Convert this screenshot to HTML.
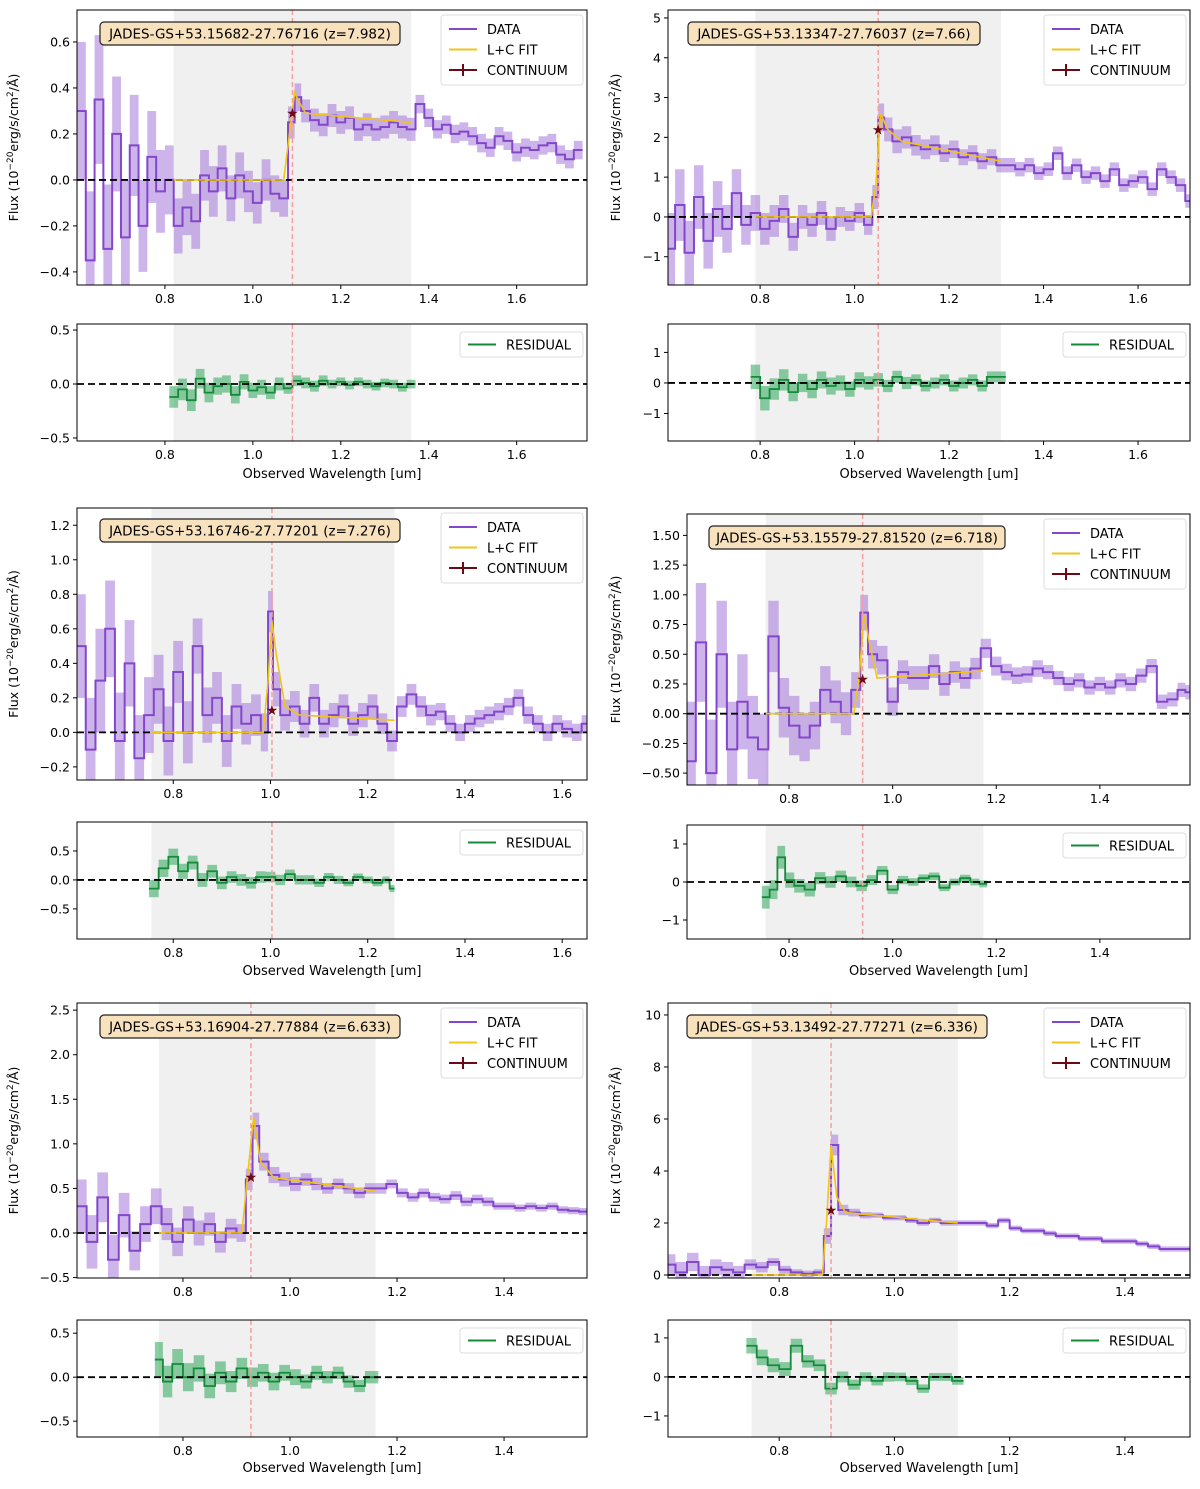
<!DOCTYPE html>
<html><head><meta charset="utf-8"><style>
html,body{margin:0;padding:0;background:#fff}
svg{display:block;font-family:"DejaVu Sans","Liberation Sans",sans-serif}
</style></head><body>
<svg id="fig" width="1200" height="1489" viewBox="0 0 1200 1489"></svg>
<script>
// ---------- DATA ----------
const titles=["JADES-GS+53.15682-27.76716 (z=7.982)","JADES-GS+53.13347-27.76037 (z=7.66)","JADES-GS+53.16746-27.77201 (z=7.276)","JADES-GS+53.15579-27.81520 (z=6.718)","JADES-GS+53.16904-27.77884 (z=6.633)","JADES-GS+53.13492-27.77271 (z=6.336)"];
// panel 1
const w1=[0.61,0.63,0.65,0.67,0.69,0.71,0.73,0.75,0.77,0.79,0.81,0.83,0.85,0.87,0.89,0.91,0.93,0.95,0.97,0.99,1.01,1.03,1.05,1.07,1.09,1.10,1.12,1.14,1.16,1.18,1.20,1.22,1.24,1.26,1.28,1.30,1.32,1.34,1.36,1.38,1.40,1.42,1.44,1.46,1.48,1.50,1.52,1.54,1.56,1.58,1.60,1.62,1.64,1.66,1.68,1.70,1.72,1.74];
const f1=[0.3,-0.35,0.35,-0.3,0.2,-0.25,0.15,-0.2,0.1,-0.05,0.0,-0.2,-0.12,-0.18,0.02,-0.05,0.05,-0.08,0.02,-0.05,-0.1,0.0,-0.06,-0.08,0.25,0.36,0.3,0.26,0.24,0.28,0.25,0.27,0.22,0.24,0.22,0.23,0.25,0.23,0.22,0.33,0.27,0.22,0.24,0.2,0.21,0.19,0.16,0.14,0.19,0.17,0.12,0.14,0.13,0.15,0.16,0.11,0.09,0.13];
const e1=[0.3,0.3,0.28,0.28,0.25,0.25,0.22,0.2,0.2,0.18,0.15,0.12,0.12,0.12,0.11,0.11,0.1,0.1,0.1,0.09,0.09,0.09,0.08,0.08,0.07,0.06,0.05,0.05,0.05,0.05,0.05,0.05,0.05,0.05,0.05,0.05,0.05,0.05,0.05,0.04,0.04,0.04,0.04,0.04,0.04,0.04,0.04,0.04,0.04,0.04,0.04,0.04,0.04,0.04,0.04,0.04,0.04,0.04];
const fx1=[0.82,1.07,1.08,1.095,1.105,1.12,1.36], fy1=[0,0,0.15,0.38,0.34,0.29,0.25];
const cont1=[1.09,0.29];
const rw1=[0.82,0.84,0.86,0.88,0.90,0.92,0.94,0.96,0.98,1.00,1.02,1.04,1.06,1.08,1.10,1.12,1.14,1.16,1.18,1.20,1.22,1.24,1.26,1.28,1.30,1.32,1.34,1.36];
const r1=[-0.12,-0.05,-0.15,0.05,-0.08,-0.02,0.0,-0.1,0.02,-0.06,-0.03,-0.08,0.0,-0.04,0.03,0.01,-0.02,0.03,0.0,0.02,-0.01,0.02,0.0,-0.02,0.01,0.0,-0.03,0.0];
const re1=[0.1,0.1,0.1,0.09,0.09,0.08,0.08,0.08,0.07,0.07,0.07,0.06,0.06,0.05,0.05,0.05,0.05,0.05,0.04,0.04,0.04,0.04,0.04,0.04,0.04,0.04,0.04,0.04];
// panel 2
const w2=[0.61,0.63,0.65,0.67,0.69,0.71,0.73,0.75,0.77,0.79,0.81,0.83,0.85,0.87,0.89,0.91,0.93,0.95,0.97,0.99,1.01,1.03,1.045,1.055,1.07,1.09,1.11,1.13,1.15,1.17,1.19,1.21,1.23,1.25,1.27,1.29,1.31,1.33,1.35,1.37,1.39,1.41,1.43,1.45,1.47,1.49,1.51,1.53,1.55,1.57,1.59,1.61,1.63,1.65,1.67,1.69,1.71];
const f2=[-0.8,0.3,-0.9,0.5,-0.6,0.2,-0.3,0.6,-0.2,0.1,-0.3,-0.1,0.2,-0.5,0.0,-0.2,0.1,-0.3,0.0,-0.1,0.1,-0.2,0.5,2.5,2.2,1.9,2.0,1.8,1.7,1.8,1.6,1.7,1.5,1.6,1.4,1.5,1.3,1.3,1.2,1.3,1.1,1.2,1.6,1.1,1.3,1.0,1.1,0.9,1.2,0.8,0.9,1.0,0.7,1.2,1.0,0.8,0.4];
const e2=[0.9,0.9,0.8,0.8,0.7,0.7,0.6,0.6,0.5,0.45,0.4,0.4,0.35,0.35,0.3,0.3,0.3,0.3,0.25,0.25,0.25,0.25,0.3,0.35,0.3,0.3,0.28,0.26,0.25,0.25,0.22,0.22,0.2,0.2,0.2,0.2,0.18,0.18,0.18,0.18,0.17,0.17,0.17,0.17,0.17,0.17,0.17,0.17,0.17,0.17,0.17,0.17,0.17,0.17,0.17,0.17,0.17];
const fx2=[0.79,1.035,1.045,1.055,1.07,1.1,1.31], fy2=[0,0,0.8,2.6,2.2,1.9,1.4];
const cont2=[1.05,2.2];
const rw2=[0.79,0.81,0.83,0.85,0.87,0.89,0.91,0.93,0.95,0.97,0.99,1.01,1.03,1.05,1.07,1.09,1.11,1.13,1.15,1.17,1.19,1.21,1.23,1.25,1.27,1.29,1.31];
const r2=[0.2,-0.5,-0.2,0.1,-0.3,0.0,-0.2,0.1,-0.1,0.0,-0.2,0.1,0.0,0.1,-0.1,0.2,0.0,0.1,-0.1,0.0,0.1,-0.1,0.0,0.1,-0.1,0.2,0.2];
const re2=[0.4,0.4,0.35,0.35,0.3,0.3,0.3,0.28,0.28,0.25,0.25,0.25,0.22,0.22,0.2,0.2,0.2,0.18,0.18,0.18,0.18,0.18,0.18,0.18,0.18,0.18,0.18];
// panel 3
const w3=[0.61,0.63,0.65,0.67,0.69,0.71,0.73,0.75,0.77,0.79,0.81,0.83,0.85,0.87,0.89,0.91,0.93,0.95,0.97,0.99,1.0,1.01,1.03,1.05,1.07,1.09,1.11,1.13,1.15,1.17,1.19,1.21,1.23,1.25,1.27,1.29,1.31,1.33,1.35,1.37,1.39,1.41,1.43,1.45,1.47,1.49,1.51,1.53,1.55,1.57,1.59,1.61,1.63,1.65];
const f3=[0.5,-0.1,0.3,0.6,-0.05,0.4,-0.15,0.1,0.25,-0.05,0.35,0.0,0.5,0.1,0.2,-0.05,0.15,0.05,0.1,0.0,0.7,0.25,0.1,0.15,0.05,0.2,0.05,0.1,0.15,0.05,0.1,0.15,0.05,-0.05,0.15,0.22,0.15,0.1,0.12,0.05,0.0,0.05,0.08,0.1,0.12,0.15,0.2,0.1,0.05,0.0,0.05,0.02,0.0,0.05];
const e3=[0.3,0.3,0.3,0.28,0.28,0.25,0.25,0.22,0.2,0.2,0.18,0.18,0.16,0.16,0.15,0.15,0.13,0.12,0.12,0.11,0.12,0.1,0.09,0.09,0.08,0.08,0.08,0.07,0.07,0.07,0.07,0.07,0.06,0.06,0.06,0.06,0.06,0.06,0.05,0.05,0.05,0.05,0.05,0.05,0.05,0.05,0.05,0.05,0.05,0.05,0.05,0.05,0.05,0.05];
const fx3=[0.755,0.985,0.995,1.003,1.012,1.03,1.06,1.255], fy3=[0,0,0.3,0.64,0.45,0.15,0.1,0.07];
const cont3=[1.003,0.13];
const rw3=[0.76,0.78,0.80,0.82,0.84,0.86,0.88,0.90,0.92,0.94,0.96,0.98,1.00,1.02,1.04,1.06,1.08,1.10,1.12,1.14,1.16,1.18,1.20,1.22,1.24,1.25];
const r3=[-0.15,0.2,0.4,0.15,0.3,0.0,0.15,-0.05,0.05,0.0,-0.05,0.05,0.05,0.0,0.1,0.0,0.0,-0.05,0.05,0.0,-0.05,0.05,0.0,-0.05,0.0,-0.15];
const re3=[0.15,0.15,0.14,0.13,0.12,0.12,0.11,0.11,0.1,0.1,0.1,0.1,0.09,0.09,0.08,0.08,0.08,0.07,0.07,0.07,0.06,0.06,0.06,0.06,0.06,0.06];
// panel 4
const w4=[0.61,0.63,0.65,0.67,0.69,0.71,0.73,0.75,0.77,0.79,0.81,0.83,0.85,0.87,0.89,0.91,0.93,0.945,0.96,0.98,1.00,1.02,1.04,1.06,1.08,1.10,1.12,1.14,1.16,1.18,1.20,1.22,1.24,1.26,1.28,1.30,1.32,1.34,1.36,1.38,1.40,1.42,1.44,1.46,1.48,1.50,1.52,1.54,1.56,1.57];
const f4=[-0.4,0.6,-0.5,0.5,-0.3,0.1,-0.2,-0.3,0.65,0.05,-0.1,-0.2,-0.1,0.2,0.1,0.0,0.2,0.85,0.5,0.45,0.1,0.35,0.3,0.3,0.4,0.25,0.35,0.3,0.38,0.55,0.4,0.35,0.32,0.33,0.38,0.35,0.3,0.25,0.28,0.22,0.25,0.22,0.28,0.25,0.32,0.4,0.1,0.12,0.2,0.18];
const e4=[0.5,0.5,0.45,0.45,0.4,0.4,0.35,0.3,0.3,0.25,0.25,0.2,0.2,0.2,0.18,0.18,0.15,0.15,0.12,0.12,0.12,0.1,0.1,0.1,0.1,0.1,0.09,0.09,0.09,0.08,0.08,0.07,0.07,0.07,0.07,0.06,0.06,0.06,0.06,0.06,0.06,0.06,0.06,0.06,0.06,0.06,0.06,0.06,0.06,0.06];
const fx4=[0.755,0.925,0.935,0.945,0.955,0.97,1.175], fy4=[0,0,0.3,0.83,0.6,0.3,0.36];
const cont4=[0.942,0.29];
const rw4=[0.755,0.77,0.785,0.80,0.82,0.84,0.86,0.88,0.90,0.92,0.94,0.96,0.98,1.00,1.02,1.04,1.06,1.08,1.10,1.12,1.14,1.16,1.175];
const r4=[-0.4,-0.2,0.65,0.05,-0.1,-0.2,0.1,0.0,0.15,0.0,-0.1,0.05,0.3,-0.2,0.05,0.0,0.1,0.15,-0.15,0.0,0.1,0.0,-0.05];
const re4=[0.3,0.25,0.3,0.2,0.18,0.18,0.16,0.15,0.15,0.14,0.14,0.13,0.12,0.12,0.11,0.1,0.1,0.1,0.09,0.09,0.09,0.09,0.09];
// panel 5
const w5=[0.61,0.63,0.65,0.67,0.69,0.71,0.73,0.75,0.77,0.79,0.81,0.83,0.85,0.87,0.89,0.91,0.925,0.935,0.95,0.97,0.99,1.01,1.03,1.05,1.07,1.09,1.11,1.13,1.15,1.17,1.19,1.21,1.23,1.25,1.27,1.29,1.31,1.33,1.35,1.37,1.39,1.41,1.43,1.45,1.47,1.49,1.51,1.53,1.55];
const f5=[0.3,-0.1,0.4,-0.3,0.2,-0.2,0.1,0.3,0.1,-0.1,0.15,0.0,0.1,-0.1,0.05,0.0,0.6,1.2,0.8,0.65,0.6,0.55,0.6,0.55,0.5,0.55,0.5,0.45,0.5,0.5,0.55,0.45,0.4,0.45,0.4,0.38,0.42,0.35,0.38,0.35,0.3,0.3,0.28,0.3,0.28,0.3,0.26,0.25,0.24];
const e5=[0.3,0.3,0.28,0.28,0.25,0.22,0.2,0.2,0.18,0.16,0.15,0.14,0.13,0.12,0.11,0.1,0.12,0.15,0.1,0.09,0.08,0.08,0.07,0.07,0.06,0.06,0.06,0.06,0.06,0.06,0.05,0.05,0.05,0.05,0.05,0.05,0.05,0.05,0.05,0.05,0.04,0.04,0.04,0.04,0.04,0.04,0.04,0.04,0.04];
const fx5=[0.755,0.91,0.92,0.932,0.945,0.97,1.16], fy5=[0,0,0.6,1.3,0.8,0.62,0.47];
const cont5=[0.927,0.63];
const rw5=[0.755,0.77,0.79,0.81,0.83,0.85,0.87,0.89,0.91,0.93,0.95,0.97,0.99,1.01,1.03,1.05,1.07,1.09,1.11,1.13,1.15,1.16];
const r5=[0.2,-0.05,0.15,0.0,0.1,-0.1,0.05,-0.05,0.1,0.0,0.05,-0.05,0.05,0.0,-0.05,0.05,0.0,0.05,-0.05,-0.1,0.0,0.0];
const re5=[0.2,0.18,0.17,0.16,0.15,0.14,0.13,0.12,0.12,0.11,0.1,0.1,0.09,0.09,0.08,0.08,0.07,0.07,0.07,0.07,0.07,0.07];
// panel 6
const w6=[0.61,0.63,0.65,0.67,0.69,0.71,0.73,0.75,0.77,0.79,0.81,0.83,0.85,0.87,0.885,0.895,0.91,0.93,0.95,0.97,0.99,1.01,1.03,1.05,1.07,1.09,1.11,1.13,1.15,1.17,1.19,1.21,1.23,1.25,1.27,1.29,1.31,1.33,1.35,1.37,1.39,1.41,1.43,1.45,1.47,1.49,1.51];
const f6=[0.4,0.1,0.5,0.0,0.3,0.2,0.1,0.4,0.3,0.5,0.2,0.1,0.05,0.1,1.5,5.0,2.5,2.4,2.3,2.3,2.2,2.2,2.1,2.0,2.1,2.0,2.0,2.0,2.0,1.9,2.1,1.8,1.7,1.7,1.6,1.5,1.5,1.4,1.4,1.3,1.3,1.3,1.2,1.1,1.0,1.0,1.0];
const e6=[0.4,0.4,0.35,0.35,0.3,0.3,0.25,0.2,0.2,0.15,0.15,0.12,0.12,0.12,0.3,0.4,0.2,0.15,0.12,0.1,0.1,0.1,0.1,0.1,0.1,0.1,0.1,0.1,0.1,0.1,0.1,0.1,0.1,0.1,0.1,0.1,0.1,0.1,0.1,0.1,0.1,0.1,0.1,0.1,0.1,0.1,0.1];
const fx6=[0.752,0.875,0.882,0.89,0.9,0.915,1.11], fy6=[0,0,2,5,3,2.4,2.0];
const cont6=[0.89,2.5];
const rw6=[0.752,0.77,0.79,0.81,0.83,0.85,0.87,0.89,0.91,0.93,0.95,0.97,0.99,1.01,1.03,1.05,1.07,1.09,1.11];
const r6=[0.8,0.5,0.3,0.2,0.8,0.4,0.3,-0.3,0.0,-0.2,0.0,-0.1,0.0,0.0,-0.1,-0.3,0.0,0.0,-0.1];
const re6=[0.2,0.2,0.18,0.18,0.18,0.16,0.15,0.15,0.14,0.13,0.12,0.12,0.12,0.11,0.11,0.11,0.1,0.1,0.1];

// ---------- LAYOUT ----------
const panels=[
 {w:w1,f:f1,e:e1,fx:fx1,fy:fy1,c:cont1,rw:rw1,r:r1,re:re1,ax:[77,587,10,285],rax:[324,441],xr:[0.6,1.76],yr:[-0.457,0.739],yt:[-0.4,-0.2,0,0.2,0.4,0.6],yl:["\u22120.4","\u22120.2","0.0","0.2","0.4","0.6"],rr:[-0.528,0.556],rt:[-0.5,0,0.5],rl:["\u22120.5","0.0","0.5"],xt:[0.8,1.0,1.2,1.4,1.6],band:[0.82,1.36],red:1.09,ylx:18,tx:100,ty:22,tw:300,xlab:478},
 {w:w2,f:f2,e:e2,fx:fx2,fy:fy2,c:cont2,rw:rw2,r:r2,re:re2,ax:[668,1190,10,285],rax:[324,441],xr:[0.605,1.71],yr:[-1.71,5.2],yt:[-1,0,1,2,3,4,5],yl:["\u22121","0","1","2","3","4","5"],rr:[-1.9,1.93],rt:[-1,0,1],rl:["\u22121","0","1"],xt:[0.8,1.0,1.2,1.4,1.6],band:[0.79,1.31],red:1.05,ylx:620,tx:688,ty:22,tw:292,xlab:478},
 {w:w3,f:f3,e:e3,fx:fx3,fy:fy3,c:cont3,rw:rw3,r:r3,re:re3,ax:[77,587,508,780],rax:[822,939],xr:[0.602,1.651],yr:[-0.276,1.3],yt:[-0.2,0,0.2,0.4,0.6,0.8,1.0,1.2],yl:["\u22120.2","0.0","0.2","0.4","0.6","0.8","1.0","1.2"],rr:[-1.02,1.0],rt:[-0.5,0,0.5],rl:["\u22120.5","0.0","0.5"],xt:[0.8,1.0,1.2,1.4,1.6],band:[0.755,1.255],red:1.003,ylx:18,tx:100,ty:519,tw:300,xlab:975},
 {w:w4,f:f4,e:e4,fx:fx4,fy:fy4,c:cont4,rw:rw4,r:r4,re:re4,ax:[687,1190,514,785],rax:[825,939],xr:[0.603,1.574],yr:[-0.6,1.68],yt:[-0.5,-0.25,0,0.25,0.5,0.75,1.0,1.25,1.5],yl:["\u22120.50","\u22120.25","0.00","0.25","0.50","0.75","1.00","1.25","1.50"],rr:[-1.5,1.5],rt:[-1,0,1],rl:["\u22121","0","1"],xt:[0.8,1.0,1.2,1.4],band:[0.755,1.175],red:0.942,ylx:620,tx:709,ty:526,tw:296,xlab:975},
 {w:w5,f:f5,e:e5,fx:fx5,fy:fy5,c:cont5,rw:rw5,r:r5,re:re5,ax:[77,587,1003,1278],rax:[1320,1437],xr:[0.602,1.555],yr:[-0.505,2.58],yt:[-0.5,0,0.5,1.0,1.5,2.0,2.5],yl:["\u22120.5","0.0","0.5","1.0","1.5","2.0","2.5"],rr:[-0.68,0.65],rt:[-0.5,0,0.5],rl:["\u22120.5","0.0","0.5"],xt:[0.8,1.0,1.2,1.4],band:[0.755,1.16],red:0.927,ylx:18,tx:100,ty:1015,tw:300,xlab:1472},
 {w:w6,f:f6,e:e6,fx:fx6,fy:fy6,c:cont6,rw:rw6,r:r6,re:re6,ax:[668,1190,1003,1278],rax:[1320,1437],xr:[0.607,1.513],yr:[-0.115,10.46],yt:[0,2,4,6,8,10],yl:["0","2","4","6","8","10"],rr:[-1.54,1.46],rt:[-1,0,1],rl:["\u22121","0","1"],xt:[0.8,1.0,1.2,1.4],band:[0.752,1.11],red:0.89,ylx:620,tx:687,ty:1015,tw:300,xlab:1472}
];

const NS="http://www.w3.org/2000/svg";
const svg=document.getElementById('fig');
function mk(tag,attrs,parent,name){const el=document.createElementNS(NS,tag);for(const k in attrs)el.setAttribute(k,attrs[k]);(parent||svg).appendChild(el);


return el;}

function stepPaths(xs,ys,es,sx,sy){
  const n=xs.length;const b=[];
  for(let i=0;i<=n;i++){
    if(i===0)b.push(xs[0]-(xs[1]-xs[0])/2);
    else if(i===n)b.push(xs[n-1]+(xs[n-1]-xs[n-2])/2);
    else b.push((xs[i-1]+xs[i])/2);
  }
  let line="",up=[],lo=[];
  for(let i=0;i<n;i++){
    const a=sx(b[i]),c=sx(b[i+1]);
    line+=(i===0?"M":"L")+a+","+sy(ys[i])+"L"+c+","+sy(ys[i]);
    up.push(a+","+sy(ys[i]+es[i]),c+","+sy(ys[i]+es[i]));
    lo.push(a+","+sy(ys[i]-es[i]),c+","+sy(ys[i]-es[i]));
  }
  return {line,band:"M"+up.join("L")+"L"+lo.reverse().join("L")+"Z"};
}

panels.forEach((p,k)=>{
  const g=mk('g',{},svg,'panel-'+(k+1));
  const [x0,x1,y0,y1]=p.ax;
  const sx=v=>x0+(v-p.xr[0])/(p.xr[1]-p.xr[0])*(x1-x0);
  const clipId='c'+k, rclipId='rc'+k;
  const defs=mk('defs',{},g,'defs');
  const cp=mk('clipPath',{id:clipId},defs,'clip');mk('rect',{x:x0,y:y0,width:x1-x0,height:y1-y0},cp,'clip-rect');
  const rcp=mk('clipPath',{id:rclipId},defs,'clip');mk('rect',{x:x0,y:p.rax[0],width:x1-x0,height:p.rax[1]-p.rax[0]},rcp,'clip-rect');

  const sy=v=>y1-(v-p.yr[0])/(p.yr[1]-p.yr[0])*(y1-y0);
  const m=mk('g',{'clip-path':`url(#${clipId})`},g,'main-plot-area');
  mk('rect',{x:sx(p.band[0]),y:y0,width:sx(p.band[1])-sx(p.band[0]),height:y1-y0,fill:'#f0f0f0'},m,'fit-region');
  const sp=stepPaths(p.w,p.f,p.e,sx,sy);
  mk('path',{d:sp.band,fill:'#9c6ad8','fill-opacity':0.5,stroke:'none'},m,'data-error-band');
  mk('path',{d:sp.line,fill:'none',stroke:'#8447cc','stroke-width':2},m,'data-line');
  mk('line',{x1:x0,x2:x1,y1:sy(0),y2:sy(0),stroke:'#000','stroke-width':1.8,'stroke-dasharray':'7,4'},m,'zero-line');
  mk('line',{x1:sx(p.red),x2:sx(p.red),y1:y0,y2:y1,stroke:'#f4a0a0','stroke-width':1.5,'stroke-dasharray':'5,3'},m,'lya-line');
  mk('path',{d:p.fx.map((v,i)=>(i?'L':'M')+sx(v)+','+sy(p.fy[i])).join(''),fill:'none',stroke:'#f0c419','stroke-width':1.6},m,'fit-line');
  mk('text',{x:sx(p.c[0]),y:sy(p.c[1])+5,'text-anchor':'middle','font-size':14,fill:'#6b0a14'},m,'continuum-marker').textContent='★';
  mk('rect',{x:x0,y:y0,width:x1-x0,height:y1-y0,fill:'none',stroke:'#000','stroke-width':1},g,'main-frame');
  p.yt.forEach((v,i)=>{const y=sy(v);mk('line',{x1:x0-4,x2:x0,y1:y,y2:y,stroke:'#000'},g,'y-tick');
    const t=mk('text',{x:x0-7,y:y+4.5,'text-anchor':'end','font-size':12.5},g,'y-tick-label');t.textContent=p.yl[i];});
  p.xt.forEach(v=>{const x=sx(v);mk('line',{x1:x,x2:x,y1:y1,y2:y1+4,stroke:'#000'},g,'x-tick');
    const t=mk('text',{x:x,y:y1+18,'text-anchor':'middle','font-size':12.5},g,'x-tick-label');t.textContent=v.toFixed(1);});
  mk('rect',{x:p.tx,y:p.ty,width:p.tw,height:23,rx:4,fill:'#f8e2bd',stroke:'#222','stroke-width':1.2},g,'source-label-box');
  const tt=mk('text',{x:p.tx+p.tw/2,y:p.ty+16.5,'text-anchor':'middle','font-size':13.5},g,'source-label');tt.textContent=titles[k];
  const lx=x1-146, ly=y0+5;
  mk('rect',{x:lx,y:ly,width:142,height:70,rx:3,fill:'#fff','fill-opacity':0.85,stroke:'#ddd'},g,'legend-box');
  [['DATA','#8447cc'],['L+C FIT','#f0c419'],['CONTINUUM','#6b0a14']].forEach((d,i)=>{
    const yy=ly+14+i*20.5;
    mk('line',{x1:lx+8,x2:lx+36,y1:yy,y2:yy,stroke:d[1],'stroke-width':2},g,'legend-swatch');
    if(i===2){mk('line',{x1:lx+22,x2:lx+22,y1:yy-6,y2:yy+6,stroke:d[1],'stroke-width':2},g,'legend-errbar');}
    const t=mk('text',{x:lx+46,y:yy+5,'font-size':13},g,'legend-entry');t.textContent=d[0];
  });
  const yl=mk('text',{x:p.ylx,y:(y0+y1)/2,'font-size':12.5,'text-anchor':'middle',transform:`rotate(-90 ${p.ylx} ${(y0+y1)/2})`},g,'y-axis-title');
  yl.innerHTML='Flux (10<tspan dy="-5" font-size="9">\u221220</tspan><tspan dy="5">erg/s/cm</tspan><tspan dy="-5" font-size="9">2</tspan><tspan dy="5">/\u00C5)</tspan>';

  const [r0,r1]=p.rax;
  const ry=v=>r1-(v-p.rr[0])/(p.rr[1]-p.rr[0])*(r1-r0);
  const rm=mk('g',{'clip-path':`url(#${rclipId})`},g,'residual-plot-area');
  mk('rect',{x:sx(p.band[0]),y:r0,width:sx(p.band[1])-sx(p.band[0]),height:r1-r0,fill:'#f0f0f0'},rm,'fit-region');
  const rp=stepPaths(p.rw,p.r,p.re,sx,ry);
  mk('path',{d:rp.band,fill:'#3fae68','fill-opacity':0.6},rm,'residual-error-band');
  mk('path',{d:rp.line,fill:'none',stroke:'#148a3a','stroke-width':1.8},rm,'residual-line');
  mk('line',{x1:x0,x2:x1,y1:ry(0),y2:ry(0),stroke:'#000','stroke-width':1.8,'stroke-dasharray':'7,4'},rm,'residual-zero-line');
  mk('line',{x1:sx(p.red),x2:sx(p.red),y1:r0,y2:r1,stroke:'#f4a0a0','stroke-width':1.5,'stroke-dasharray':'5,3'},rm,'residual-lya-line');
  mk('rect',{x:x0,y:r0,width:x1-x0,height:r1-r0,fill:'none',stroke:'#000'},g,'residual-frame');
  p.rt.forEach((v,i)=>{const y=ry(v);mk('line',{x1:x0-4,x2:x0,y1:y,y2:y,stroke:'#000'},g,'residual-y-tick');
    const t=mk('text',{x:x0-7,y:y+4.5,'text-anchor':'end','font-size':12.5},g,'residual-y-tick-label');t.textContent=p.rl[i];});
  p.xt.forEach(v=>{const x=sx(v);mk('line',{x1:x,x2:x,y1:r1,y2:r1+4,stroke:'#000'},g,'residual-x-tick');
    const t=mk('text',{x:x,y:r1+18,'text-anchor':'middle','font-size':12.5},g,'residual-x-tick-label');t.textContent=v.toFixed(1);});
  const rlx=x1-127, rly=r0+8;
  mk('rect',{x:rlx,y:rly,width:123,height:25,rx:3,fill:'#fff',stroke:'#ddd'},g,'residual-legend-box');
  mk('line',{x1:rlx+8,x2:rlx+36,y1:rly+12.5,y2:rly+12.5,stroke:'#148a3a','stroke-width':2},g,'residual-legend-swatch');
  const rt=mk('text',{x:rlx+46,y:rly+17.5,'font-size':13},g,'residual-legend-entry');rt.textContent='RESIDUAL';
  const xl=mk('text',{x:(x0+x1)/2,y:p.xlab,'text-anchor':'middle','font-size':13},g,'x-axis-title');xl.textContent='Observed Wavelength [um]';
});
</script>
</body></html>
